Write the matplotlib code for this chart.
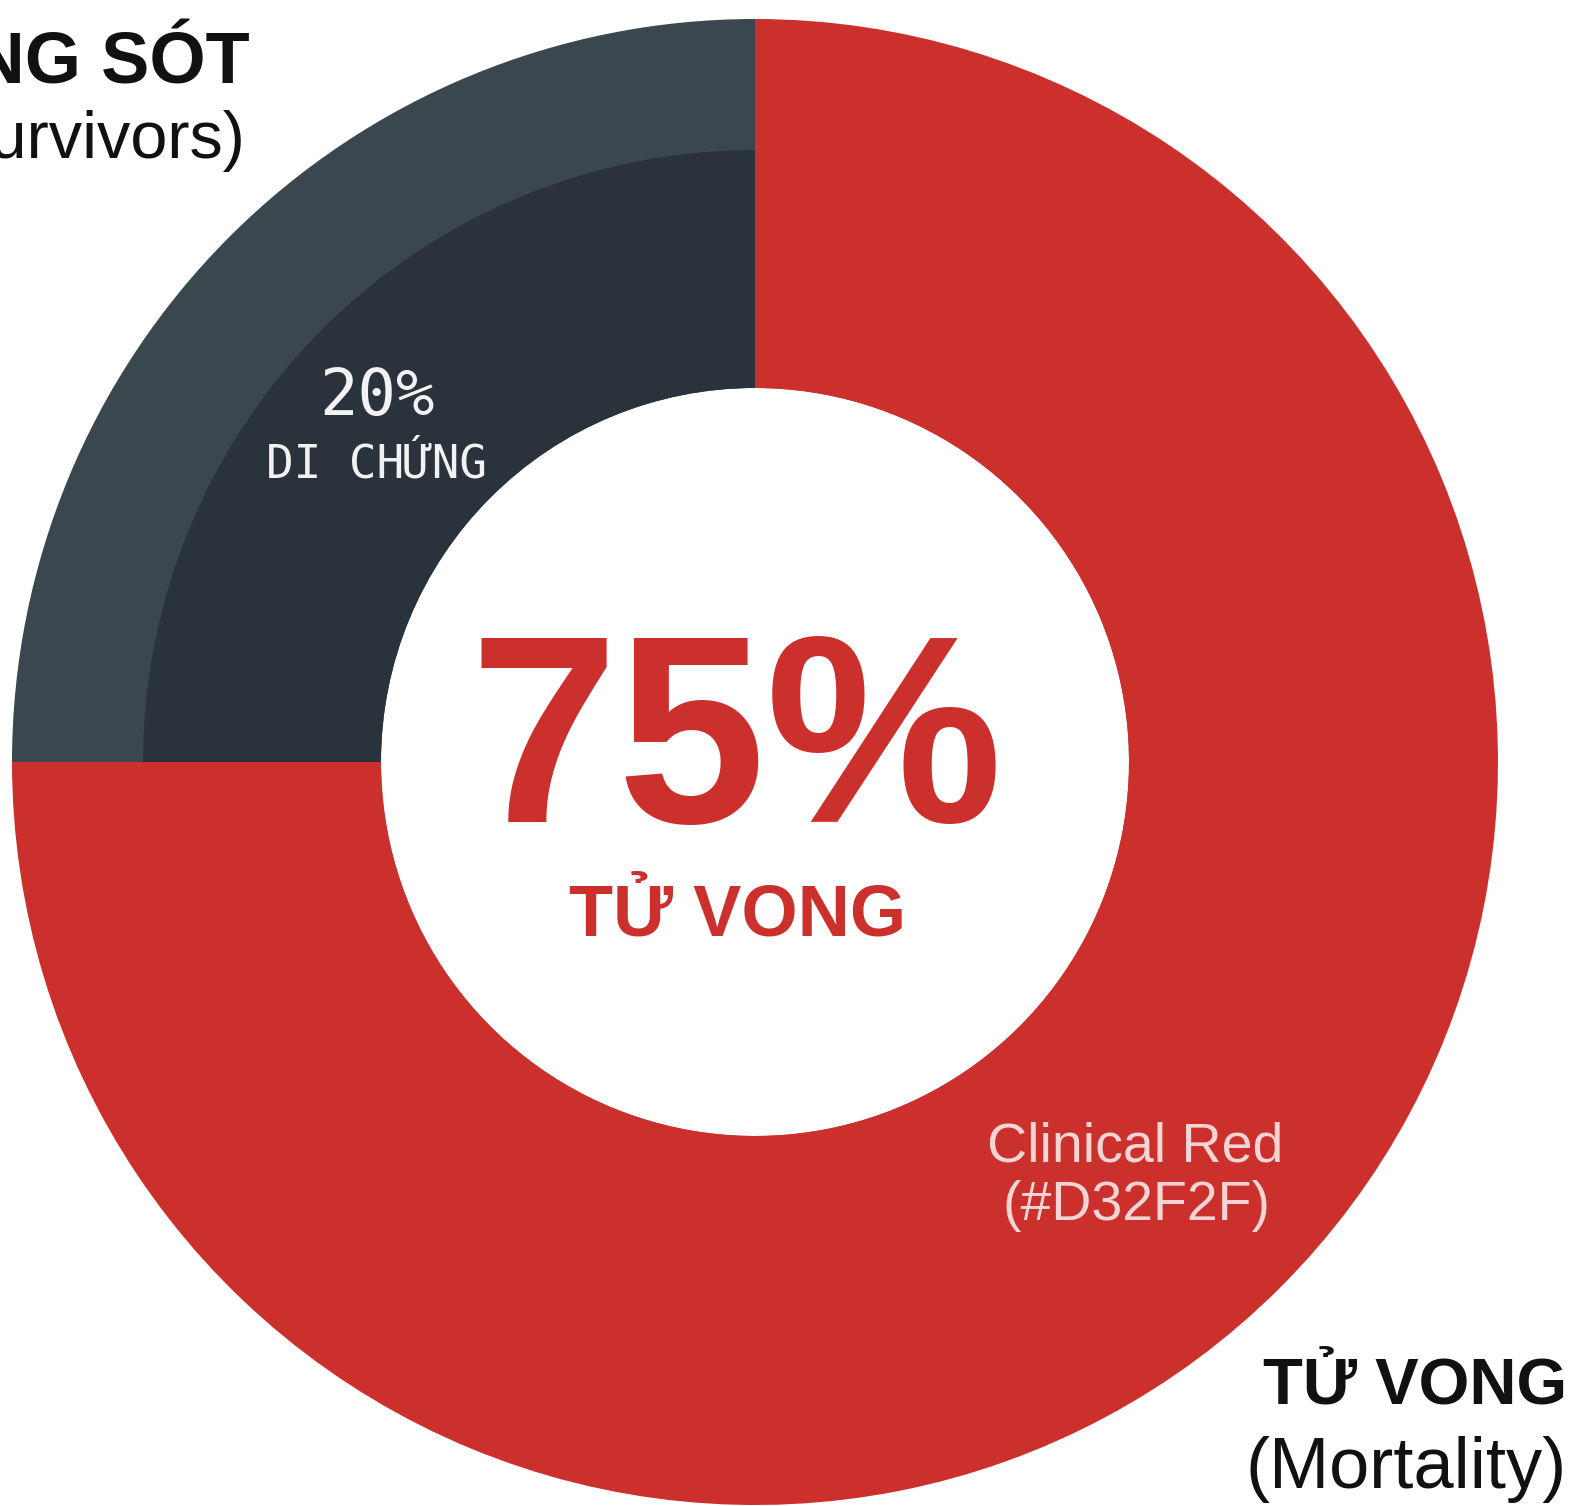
import matplotlib
matplotlib.use("Agg")
import matplotlib.pyplot as plt

W, H = 1575, 1506

# data
segments = ["TỬ VONG", "SỐNG SÓT"]
shares = [75, 25]          # mortality, survivors
sequelae = 20              # survivors with sequelae (label only)
outer_colors = ["#CB302D", "#3A474F"]
inner_colors = ["#CB302D", "#2A333B"]

cx, cy = 755, 762          # centre in picture coords (y down)
r_out, r_mid, r_in = 743, 612, 374


def y(v):
    return H - v


fig = plt.figure(figsize=(W / 100, H / 100), dpi=100)
ax = fig.add_axes([0, 0, 1, 1])

ax.pie(shares, colors=outer_colors, startangle=90, counterclock=False,
       radius=r_out, center=(cx, y(cy)),
       wedgeprops=dict(width=r_out - r_in, linewidth=0))
ax.pie(shares, colors=inner_colors, startangle=90, counterclock=False,
       radius=r_mid, center=(cx, y(cy)),
       wedgeprops=dict(width=r_mid - r_in, linewidth=0))

ax.set_xlim(0, W)
ax.set_ylim(0, H)
ax.set_aspect("auto")
ax.axis("off")

sans = "Liberation Sans"
mono = "DejaVu Sans Mono"
red = outer_colors[0]

# outside labels (the survivors label runs off the left edge, as in the source)
ax.text(250, y(82), "SỐNG SÓT", ha="right", va="baseline", fontsize=52,
        fontweight="bold", family=sans, color="#111111")
ax.text(246, y(158), "(Survivors)", ha="right", va="baseline", fontsize=48,
        family=sans, color="#111111")
ax.text(1567, y(1403), segments[0], ha="right", va="baseline", fontsize=47,
        fontweight="bold", family=sans, color="#111111")
ax.text(1567, y(1488), "(Mortality)", ha="right", va="baseline", fontsize=52,
        family=sans, color="#111111")

# survivors inner label
ax.text(377, y(415), f"{sequelae}%", ha="center", va="baseline", fontsize=46,
        family=mono, color="#F2F2F2")
ax.text(376, y(477), "DI CHỨNG", ha="center", va="baseline", fontsize=33,
        family=mono, color="#F2F2F2")

# centre
ax.text(736, y(822), f"{shares[0]}%", ha="center", va="baseline", fontsize=192,
        fontweight="bold", family=sans, color=red)
ax.text(738, y(935), segments[0], ha="center", va="baseline", fontsize=52,
        fontweight="bold", family=sans, color=red)

# colour note
ax.text(1135, y(1162), "Clinical Red", ha="center", va="baseline", fontsize=40,
        family=sans, color="#F5D5D4")
ax.text(1136, y(1220), "(#D32F2F)", ha="center", va="baseline", fontsize=40,
        family=sans, color="#F5D5D4")

fig.savefig("out.png", dpi=100, facecolor="white")
